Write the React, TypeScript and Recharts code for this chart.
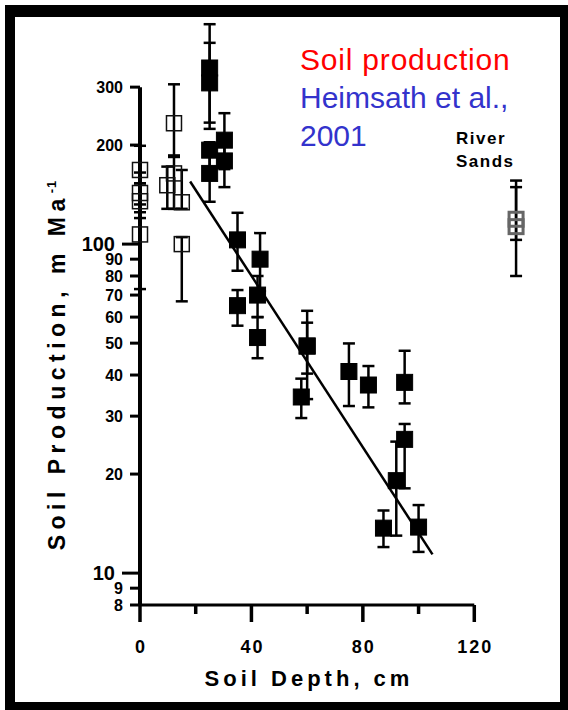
import React from 'react';
import {
  ScatterChart,
  Scatter,
  XAxis,
  YAxis,
  ErrorBar,
  ReferenceLine,
} from 'recharts';

// open squares (shallow / no-soil samples)
const openX = [0, 0, 0, 0, 9.8, 12.2, 12.2, 15, 15];
const openY = [168, 143, 135, 107, 151, 164, 233, 134, 100];
const openLo = [153, 125, 120, 73, 128, 128, 184, 128, 67];
const openHi = [199, 165, 153, 132, 172, 186, 306, 168, 105];

// filled squares (soil-mantled samples)
const fillX = [25, 25, 25, 25, 30.3, 30.3, 35, 35, 43.1, 42.2, 42.2, 57.9, 60, 60, 75, 82, 87.4, 92, 95, 95, 100];
const fillY = [343, 309, 193, 164, 207, 179, 103, 65, 90, 70, 52, 34.3, 49, 49, 41, 37.3, 13.7, 19.1, 38, 25.5, 13.8];
const fillLo = [234, 224, 164, 134.5, 169, 149, 83, 56.5, 72, 60, 45, 29.6, 33.8, 40.4, 32.2, 31.9, 12, 13, 32.8, 18.1, 11.6];
const fillHi = [466, 409, 204, 193, 250, 207, 124.5, 72.5, 108, 80, 60, 39, 62.7, 57.7, 49.9, 42.6, 15.5, 25.1, 47.4, 28.4, 16.1];

// river sands
const riverX = [135, 135];
const riverY = [119, 113];
const riverLo = [103, 80];
const riverHi = [156, 149];

// exponential fit
const fitX = [18, 105];
const fitY = [155, 11.4];

const yTicks = [8, 9, 10, 20, 30, 40, 50, 60, 70, 80, 90, 100, 200, 300];
const xTicks = [0, 20, 40, 60, 80, 100, 120];
const xLabelled = [0, 40, 80, 120];

const FONT = '"Liberation Sans", Arial, Helvetica, sans-serif';

function build(xs: number[], ys: number[], lo: number[], hi: number[]) {
  return xs.map((x, i) => ({ x, y: ys[i], err: [ys[i] - lo[i], hi[i] - ys[i]] }));
}

const openData = build(openX, openY, openLo, openHi);
const fillData = build(fillX, fillY, fillLo, fillHi);
const riverData = build(riverX, riverY, riverLo, riverHi);

const square = (fill: string, stroke: string, sw: number, size: number) => (props: any) => {
  const { cx, cy } = props;
  return (
    <rect
      x={cx - size / 2}
      y={cy - size / 2}
      width={size}
      height={size}
      fill={fill}
      stroke={stroke}
      strokeWidth={sw}
    />
  );
};

function YTick(props: any) {
  const { x, y, payload } = props;
  const v = payload.value;
  const major = v === 10 || v === 100;
  const len = major ? 18 : 10;
  return (
    <g>
      <line x1={x - len} x2={x} y1={y} y2={y} stroke="#000" strokeWidth={3} />
      <text
        x={x - len - 7}
        y={y}
        dy="0.36em"
        textAnchor="end"
        fontFamily={FONT}
        fontWeight="bold"
        fontSize={major ? 20 : 16}
        fill="#000"
      >
        {v}
      </text>
    </g>
  );
}

function XTick(props: any) {
  const { x, y, payload } = props;
  const v = payload.value;
  const major = xLabelled.includes(v);
  return (
    <g>
      <line x1={x} x2={x} y1={y} y2={y + (major ? 17 : 9)} stroke="#000" strokeWidth={3.5} />
      {major && (
        <text
          x={x + 1}
          y={y + 48}
          textAnchor="middle"
          fontFamily={FONT}
          fontWeight="bold"
          fontSize={18}
          letterSpacing={2}
          fill="#000"
        >
          {v}
        </text>
      )}
    </g>
  );
}

export default function App() {
  return (
    <div style={{ position: 'absolute', left: 0, top: 0, width: 568, height: 710, background: '#fff', fontFamily: FONT }}>
      <div
        style={{
          position: 'absolute',
          left: 5,
          top: 5,
          width: 563,
          height: 705,
          boxSizing: 'border-box',
          borderStyle: 'solid',
          borderColor: '#000',
          borderWidth: '12px 8px 8px 10px',
        }}
      />
      <ScatterChart width={568} height={710} margin={{ top: 15, right: 38, bottom: 0, left: 0 }}>
        <XAxis
          type="number"
          dataKey="x"
          domain={[0, 140]}
          ticks={xTicks}
          interval={0}
          axisLine={false}
          tickLine={false}
          tickSize={0}
          tickMargin={0}
          height={105}
          tick={<XTick />}
        />
        <YAxis
          type="number"
          dataKey="y"
          scale="log"
          domain={[8, 497]}
          ticks={yTicks}
          interval={0}
          axisLine={false}
          tickLine={false}
          tickSize={0}
          tickMargin={0}
          width={140}
          tick={<YTick />}
        />
        <ReferenceLine segment={[{ x: 0, y: 8 }, { x: 120, y: 8 }]} stroke="#000" strokeWidth={3} />
        <ReferenceLine segment={[{ x: 0, y: 8 }, { x: 0, y: 300 }]} stroke="#000" strokeWidth={4} />
        <ReferenceLine
          segment={[{ x: fitX[0], y: fitY[0] }, { x: fitX[1], y: fitY[1] }]}
          stroke="#000"
          strokeWidth={2.5}
        />
        <Scatter data={openData} shape={square('none', '#111', 1.5, 15)} isAnimationActive={false}>
          <ErrorBar dataKey="err" direction="y" width={6} stroke="#000" strokeWidth={2.5} />
        </Scatter>
        <Scatter data={fillData} shape={square('#000', '#000', 1, 16)} isAnimationActive={false}>
          <ErrorBar dataKey="err" direction="y" width={6} stroke="#000" strokeWidth={2.5} />
        </Scatter>
        <Scatter data={riverData} shape={square('none', '#666', 3, 14)} isAnimationActive={false}>
          <ErrorBar dataKey="err" direction="y" width={6} stroke="#000" strokeWidth={2.5} />
        </Scatter>
      </ScatterChart>
      <div style={{ position: 'absolute', left: 300, top: 41, fontSize: 30, lineHeight: '38px', whiteSpace: 'nowrap' }}>
        <div style={{ color: '#ff0000', letterSpacing: 0.8 }}>Soil production</div>
        <div style={{ color: '#3333cc' }}>Heimsath et al.,</div>
        <div style={{ color: '#3333cc' }}>2001</div>
      </div>
      <div
        style={{
          position: 'absolute',
          left: 456,
          top: 127,
          fontSize: 17,
          fontWeight: 'bold',
          lineHeight: '23px',
          letterSpacing: 1.5,
          whiteSpace: 'nowrap',
        }}
      >
        <div>River</div>
        <div>Sands</div>
      </div>
      <div
        style={{
          position: 'absolute',
          left: 309,
          top: 679,
          transform: 'translate(-50%, -50%)',
          fontSize: 22,
          fontWeight: 'bold',
          letterSpacing: 4,
          whiteSpace: 'nowrap',
        }}
      >
        Soil Depth, cm
      </div>
      <div
        style={{
          position: 'absolute',
          left: 57,
          top: 365,
          transform: 'translate(-50%, -50%) rotate(-90deg)',
          fontSize: 23,
          fontWeight: 'bold',
          letterSpacing: 5.5,
          whiteSpace: 'nowrap',
        }}
      >
        Soil Production, m Ma<sup style={{ fontSize: 13, letterSpacing: 1 }}>-1</sup>
      </div>
    </div>
  );
}
